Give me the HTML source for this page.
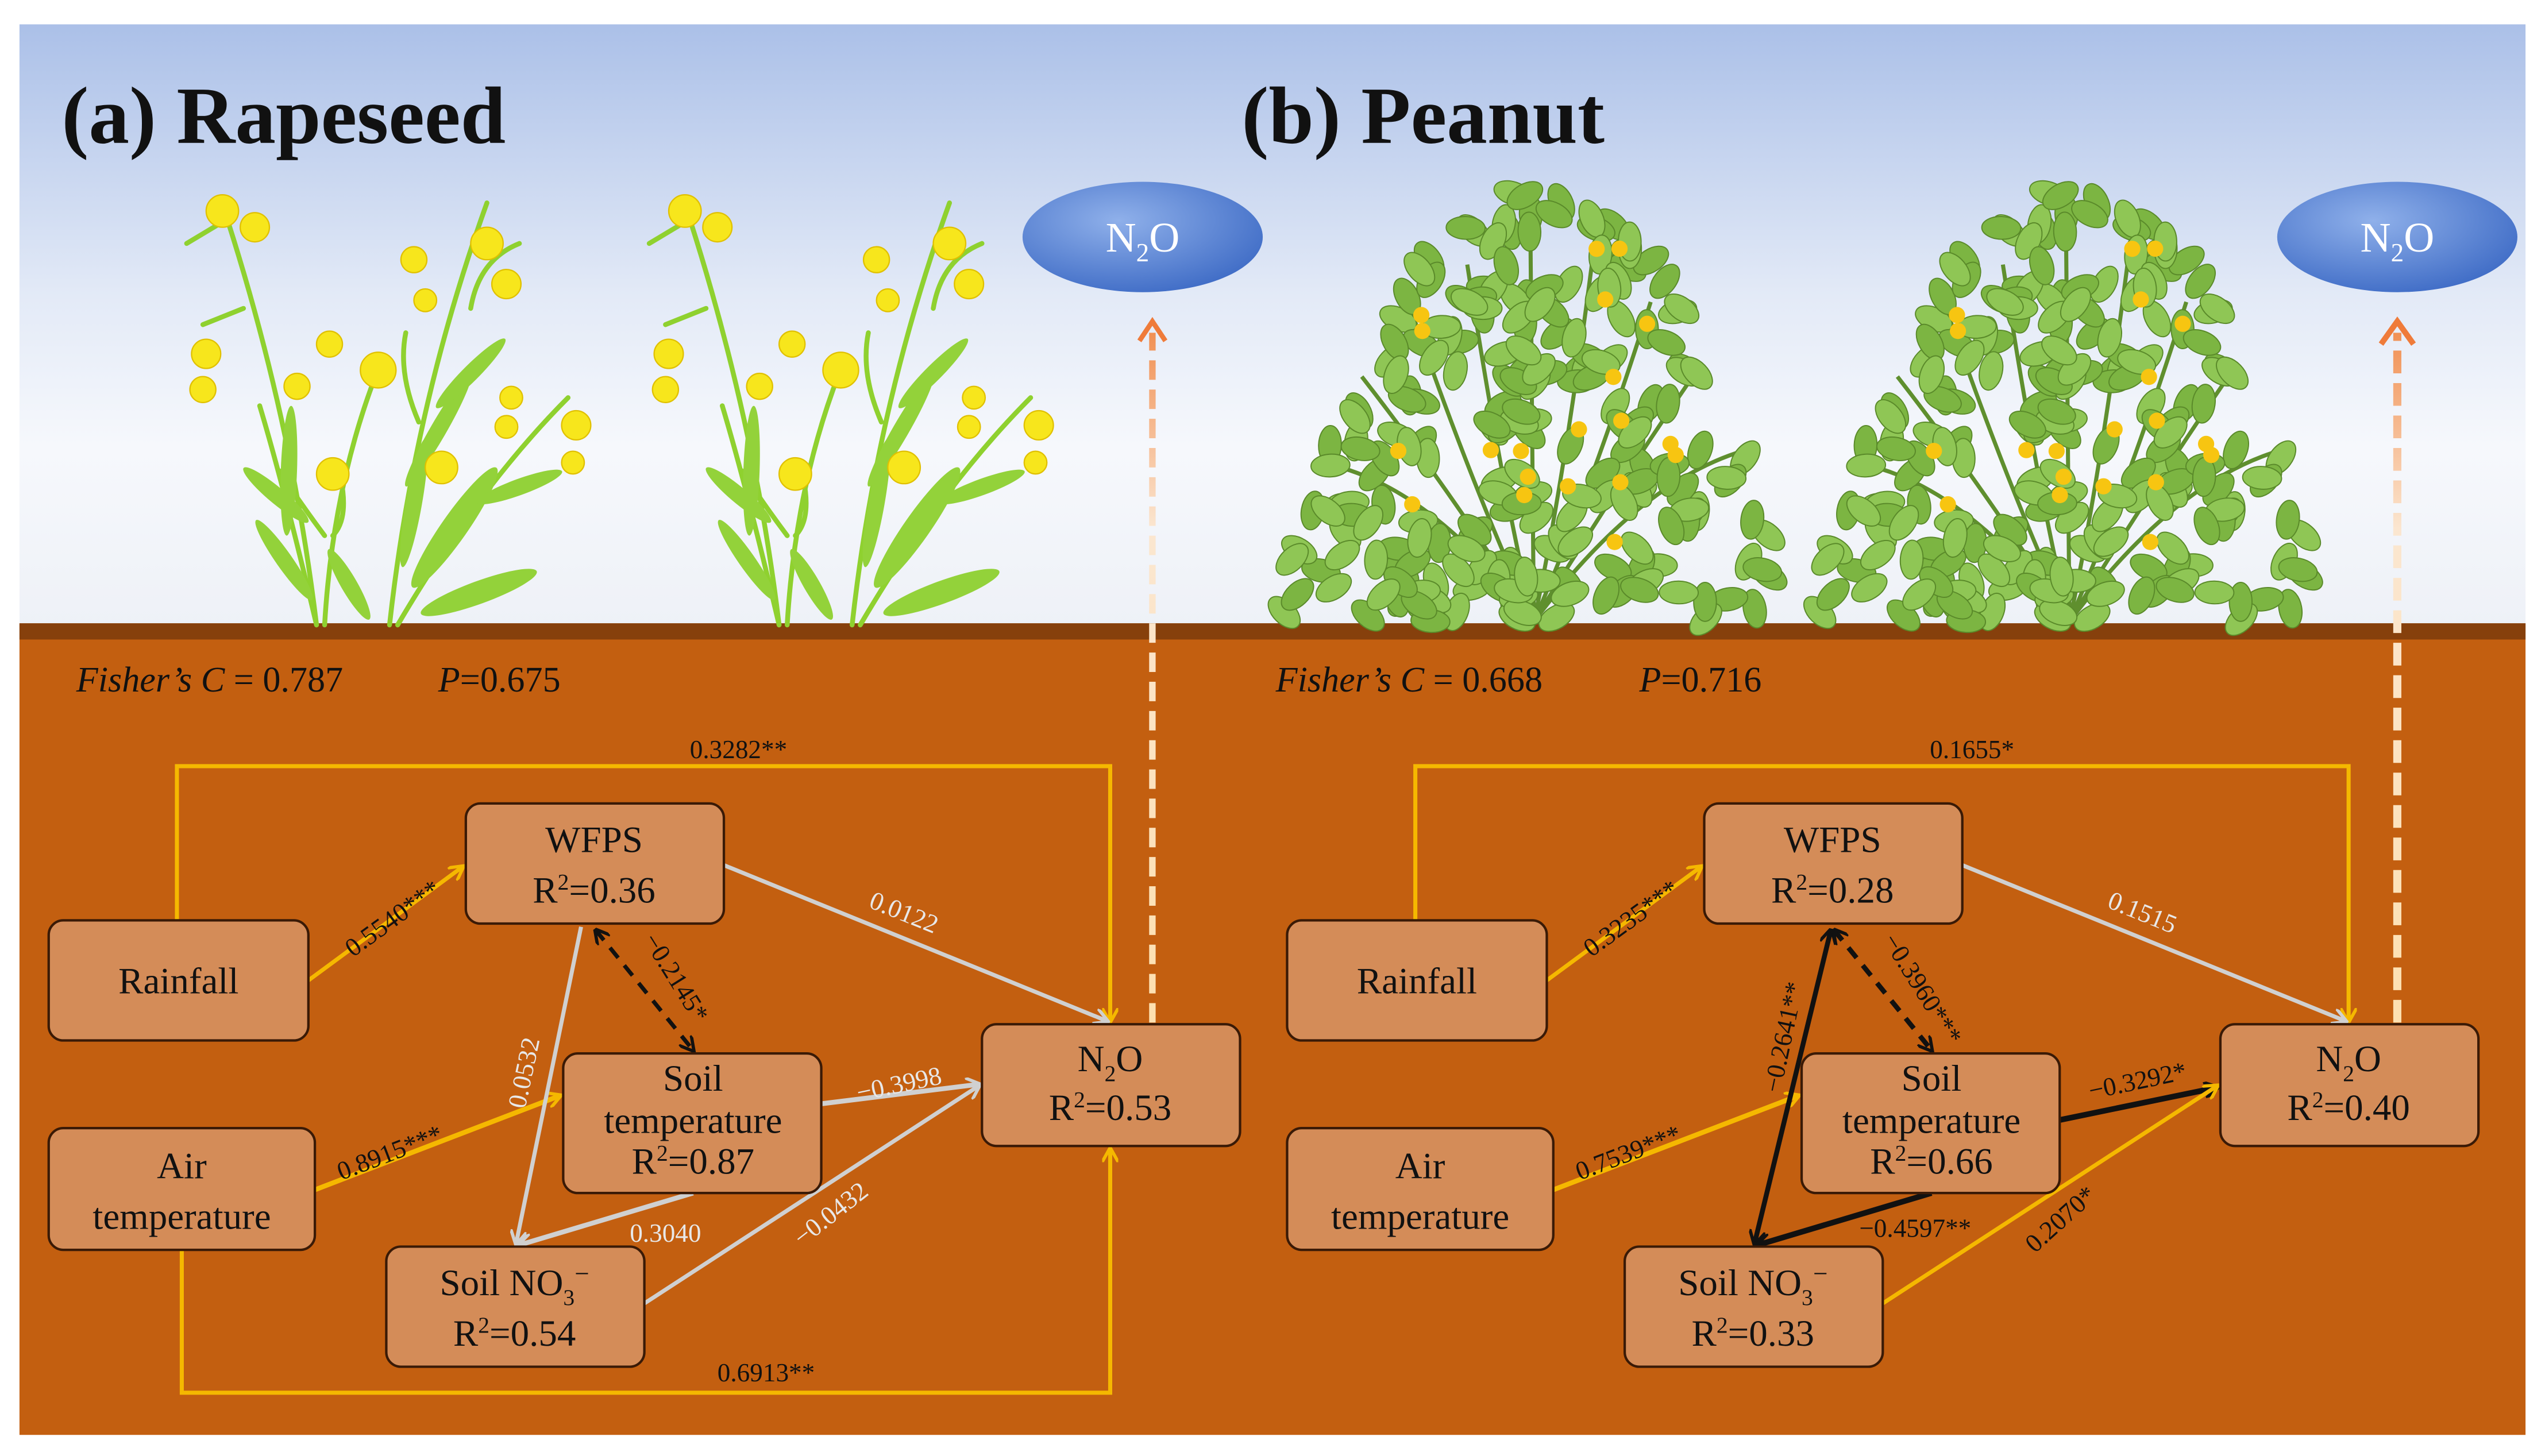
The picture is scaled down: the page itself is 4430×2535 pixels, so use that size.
<!DOCTYPE html>
<html><head><meta charset="utf-8">
<style>
html,body{margin:0;padding:0;background:#fff;}
svg{display:block;}
svg text{font-family:"Liberation Serif","DejaVu Serif",serif;}
</style></head>
<body>
<svg id="s" width="4430" height="2535" viewBox="0 0 1568 897" preserveAspectRatio="none" xmlns="http://www.w3.org/2000/svg" font-family="Liberation Serif, serif">
<defs>
<linearGradient id="sky" x1="0" y1="0" x2="0" y2="1">
<stop offset="0" stop-color="#abc0e8"/>
<stop offset="0.45" stop-color="#e3eaf7"/>
<stop offset="0.7" stop-color="#f6f8fc"/>
<stop offset="1" stop-color="#eef1f7"/>
</linearGradient>
<radialGradient id="ell" cx="0.4" cy="0.35" r="0.7">
<stop offset="0" stop-color="#8fb0ea"/>
<stop offset="1" stop-color="#3f6cc6"/>
</radialGradient>
<linearGradient id="dashA" gradientUnits="userSpaceOnUse" x1="0" y1="195" x2="0" y2="630">
<stop offset="0" stop-color="#f0894a"/>
<stop offset="0.3" stop-color="#fbe6d0"/>
<stop offset="1" stop-color="#fde0b0"/>
</linearGradient>
<marker id="my" markerWidth="10" markerHeight="10" refX="8" refY="5" orient="auto" markerUnits="userSpaceOnUse"><path d="M0,0 L9,5 L0,10" fill="none" stroke="#f5b800" stroke-width="2"/></marker>
<marker id="mg" markerWidth="10" markerHeight="10" refX="8" refY="5" orient="auto" markerUnits="userSpaceOnUse"><path d="M0,0 L9,5 L0,10" fill="none" stroke="#d0d0d0" stroke-width="2"/></marker>
<marker id="mk" markerWidth="10" markerHeight="10" refX="8" refY="5" orient="auto" markerUnits="userSpaceOnUse"><path d="M0,0 L9,5 L0,10" fill="none" stroke="#111" stroke-width="2"/></marker>
<marker id="mks" markerWidth="10" markerHeight="10" refX="1" refY="5" orient="auto" markerUnits="userSpaceOnUse"><path d="M9,0 L0,5 L9,10" fill="none" stroke="#111" stroke-width="2"/></marker>
<g id="rape">
 <g stroke="#8fd12f" stroke-width="3" fill="none" stroke-linecap="round">
  <path d="M195,385 Q180,260 140,135"/>
  <path d="M195,385 Q175,300 160,250"/>
  <path d="M200,385 Q205,300 232,230"/>
  <path d="M240,385 Q255,250 300,125"/>
  <path d="M245,385 Q295,300 350,245"/>
  <path d="M200,330 Q185,310 172,290"/>
  <path d="M205,330 Q215,320 210,295"/>
  <path d="M258,260 Q245,230 250,205"/>
  <path d="M290,190 Q295,160 320,150"/>
  <path d="M140,135 L115,150"/><path d="M150,190 L125,200"/>
 </g>
 <g fill="#93d23a">
  <ellipse cx="170" cy="305" rx="26" ry="5" transform="rotate(40 170 305)"/>
  <ellipse cx="175" cy="345" rx="30" ry="5" transform="rotate(55 175 345)"/>
  <ellipse cx="178" cy="290" rx="40" ry="5" transform="rotate(-88 178 290)"/>
  <ellipse cx="215" cy="360" rx="25" ry="5" transform="rotate(60 215 360)"/>
  <ellipse cx="270" cy="265" rx="40" ry="5" transform="rotate(-60 270 265)"/>
  <ellipse cx="280" cy="325" rx="45" ry="8" transform="rotate(-55 280 325)"/>
  <ellipse cx="295" cy="365" rx="38" ry="7" transform="rotate(-20 295 365)"/>
  <ellipse cx="290" cy="230" rx="30" ry="5" transform="rotate(-45 290 230)"/>
  <ellipse cx="320" cy="300" rx="28" ry="5" transform="rotate(-20 320 300)"/>
  <ellipse cx="255" cy="310" rx="40" ry="5" transform="rotate(-80 255 310)"/>
 </g>
 <g fill="#f7e61c" stroke="#e0c000" stroke-width="0.8">
  <circle cx="137" cy="130" r="10"/><circle cx="157" cy="140" r="9"/>
  <circle cx="127" cy="218" r="9"/><circle cx="125" cy="240" r="8"/>
  <circle cx="183" cy="238" r="8"/><circle cx="203" cy="212" r="8"/>
  <circle cx="233" cy="228" r="11"/><circle cx="205" cy="292" r="10"/>
  <circle cx="255" cy="160" r="8"/><circle cx="300" cy="150" r="10"/>
  <circle cx="312" cy="175" r="9"/><circle cx="262" cy="185" r="7"/>
  <circle cx="272" cy="288" r="10"/><circle cx="315" cy="245" r="7"/>
  <circle cx="312" cy="263" r="7"/><circle cx="355" cy="262" r="9"/><circle cx="353" cy="285" r="7"/>
 </g>
</g>
<g id="pea"></g>
</defs>
<rect x="12" y="15" width="1544" height="372" fill="url(#sky)"/>
<rect x="12" y="384" width="1544" height="500" fill="#c35f10"/>
<rect x="12" y="384" width="1544" height="10" fill="#86400c"/>

<text x="38" y="88" font-size="50" font-weight="bold" fill="#111" font-family="Liberation Serif, serif">(a) Rapeseed</text>
<text x="765" y="88" font-size="50" font-weight="bold" fill="#111" font-family="Liberation Serif, serif">(b) Peanut</text>

<use href="#rape"/>
<use href="#rape" transform="translate(285,0)"/>
<use href="#pea" transform="translate(945,0)"/>
<use href="#pea" transform="translate(1275,0)"/>

<ellipse cx="704" cy="146" rx="74" ry="34" fill="url(#ell)"/>
<text x="704" y="155" font-size="26" fill="#fff" text-anchor="middle">N<tspan font-size="16" dy="6">2</tspan><tspan dy="-6">O</tspan></text>
<ellipse cx="1477" cy="146" rx="74" ry="34" fill="url(#ell)"/>
<text x="1477" y="155" font-size="26" fill="#fff" text-anchor="middle">N<tspan font-size="16" dy="6">2</tspan><tspan dy="-6">O</tspan></text>
<line x1="710" y1="630" x2="710" y2="205" stroke="url(#dashA)" stroke-width="4" stroke-dasharray="12,6"/>
<path d="M702,210 L710,198 L718,210" fill="none" stroke="#ef7b3a" stroke-width="3"/>
<line x1="1477" y1="630" x2="1477" y2="205" stroke="url(#dashA)" stroke-width="5" stroke-dasharray="14,6"/>
<path d="M1467,212 L1477,198 L1487,212" fill="none" stroke="#ef7b3a" stroke-width="3.5"/>

<g font-size="22" fill="#111">
<text x="47" y="426"><tspan font-style="italic">Fisher’s C</tspan> = 0.787<tspan x="270" font-style="italic">P</tspan>=0.675</text>
<text x="786" y="426"><tspan font-style="italic">Fisher’s C</tspan> = 0.668<tspan x="1010" font-style="italic">P</tspan>=0.716</text>
</g>

<g fill="none" stroke-width="2.5">
 <polyline points="109,567 109,472 684,472 684,629" stroke="#f5b800" marker-end="url(#my)"/>
 <polyline points="112,770 112,858 684,858 684,708" stroke="#f5b800" marker-end="url(#my)"/>
 <line x1="190" y1="604" x2="285" y2="534" stroke="#f5b800" marker-end="url(#my)"/>
 <line x1="194" y1="733" x2="345" y2="675" stroke="#f5b800" stroke-width="3" marker-end="url(#my)"/>
 <line x1="446" y1="533" x2="682" y2="629" stroke="#d0d0d0" marker-end="url(#mg)"/>
 <line x1="506" y1="680" x2="603" y2="668" stroke="#d0d0d0" stroke-width="3" marker-end="url(#mg)"/>
 <line x1="358" y1="571" x2="318" y2="766" stroke="#d0d0d0" marker-end="url(#mg)"/>
 <line x1="427" y1="735" x2="320" y2="767" stroke="#d0d0d0" stroke-width="3" marker-end="url(#mg)"/>
 <line x1="397" y1="803" x2="603" y2="669" stroke="#d0d0d0" marker-end="url(#mg)"/>
 <line x1="367" y1="573" x2="427" y2="647" stroke="#111" stroke-dasharray="8,6" marker-end="url(#mk)" marker-start="url(#mks)"/>
</g>
<g font-size="16">
 <text x="455" y="467" text-anchor="middle" fill="#111">0.3282**</text>
 <text x="472" y="851" text-anchor="middle" fill="#111">0.6913**</text>
 <text transform="translate(245,570) rotate(-36)" text-anchor="middle" fill="#111">0.5540***</text>
 <text transform="translate(555,567) rotate(22)" text-anchor="middle" fill="#e8e8e8">0.0122</text>
 <text transform="translate(412,605) rotate(58)" text-anchor="middle" fill="#111">−0.2145*</text>
 <text transform="translate(328,662) rotate(-78)" text-anchor="middle" fill="#e8e8e8">0.0532</text>
 <text transform="translate(242,715) rotate(-21)" text-anchor="middle" fill="#111">0.8915***</text>
 <text transform="translate(555,673) rotate(-12)" text-anchor="middle" fill="#e8e8e8">−0.3998</text>
 <text x="410" y="765" text-anchor="middle" fill="#e8e8e8">0.3040</text>
 <text transform="translate(515,752) rotate(-38)" text-anchor="middle" fill="#e8e8e8">−0.0432</text>
</g>

<g fill="none" stroke-width="2.5">
 <polyline points="872,567 872,472 1447,472 1447,629" stroke="#f5b800" marker-end="url(#my)"/>
 <line x1="953" y1="604" x2="1048" y2="534" stroke="#f5b800" marker-end="url(#my)"/>
 <line x1="957" y1="733" x2="1108" y2="675" stroke="#f5b800" stroke-width="3" marker-end="url(#my)"/>
 <line x1="1209" y1="533" x2="1445" y2="629" stroke="#d0d0d0" marker-end="url(#mg)"/>
 <line x1="1269" y1="690" x2="1366" y2="670" stroke="#111" stroke-width="3.5" marker-end="url(#mk)"/>
 <line x1="1128" y1="573" x2="1081" y2="766" stroke="#111" stroke-width="3" marker-end="url(#mk)" marker-start="url(#mks)"/>
 <line x1="1190" y1="735" x2="1083" y2="767" stroke="#111" stroke-width="3.5" marker-end="url(#mk)"/>
 <line x1="1160" y1="803" x2="1366" y2="669" stroke="#f5b800" marker-end="url(#my)"/>
 <line x1="1130" y1="573" x2="1190" y2="647" stroke="#111" stroke-width="3" stroke-dasharray="8,6" marker-end="url(#mk)" marker-start="url(#mks)"/>
</g>
<g font-size="16">
 <text x="1215" y="467" text-anchor="middle" fill="#111">0.1655*</text>
 <text transform="translate(1008,570) rotate(-36)" text-anchor="middle" fill="#111">0.3235***</text>
 <text transform="translate(1318,567) rotate(22)" text-anchor="middle" fill="#e8e8e8">0.1515</text>
 <text transform="translate(1180,612) rotate(58)" text-anchor="middle" fill="#111">−0.3960***</text>
 <text transform="translate(1104,640) rotate(-78)" text-anchor="middle" fill="#111">−0.2641**</text>
 <text transform="translate(1005,715) rotate(-21)" text-anchor="middle" fill="#111">0.7539***</text>
 <text transform="translate(1318,671) rotate(-12)" text-anchor="middle" fill="#111">−0.3292*</text>
 <text x="1180" y="762" text-anchor="middle" fill="#111">−0.4597**</text>
 <text transform="translate(1273,755) rotate(-42)" text-anchor="middle" fill="#111">0.2070*</text>
</g>

<g fill="#d48c58" stroke="#3a1a06" stroke-width="1.5">
 <rect x="30" y="567" width="160" height="74" rx="9"/>
 <rect x="287" y="495" width="159" height="74" rx="9"/>
 <rect x="30" y="695" width="164" height="75" rx="9"/>
 <rect x="347" y="649" width="159" height="86" rx="9"/>
 <rect x="238" y="768" width="159" height="74" rx="9"/>
 <rect x="605" y="631" width="159" height="75" rx="9"/>
 <rect x="793" y="567" width="160" height="74" rx="9"/>
 <rect x="1050" y="495" width="159" height="74" rx="9"/>
 <rect x="793" y="695" width="164" height="75" rx="9"/>
 <rect x="1110" y="649" width="159" height="86" rx="9"/>
 <rect x="1001" y="768" width="159" height="74" rx="9"/>
 <rect x="1368" y="631" width="159" height="75" rx="9"/>
</g>
<g font-size="23" fill="#111" text-anchor="middle">
 <text x="110" y="612">Rainfall</text>
 <text x="366" y="525">WFPS</text><text x="366" y="556">R<tspan font-size="14" dy="-8">2</tspan><tspan dy="8">=0.36</tspan></text>
 <text x="112" y="726">Air</text><text x="112" y="757">temperature</text>
 <text x="427" y="672">Soil</text><text x="427" y="698">temperature</text><text x="427" y="723">R<tspan font-size="14" dy="-8">2</tspan><tspan dy="8">=0.87</tspan></text>
 <text x="317" y="798">Soil NO<tspan font-size="14" dy="6">3</tspan><tspan font-size="16" dy="-14">−</tspan></text><text x="317" y="829">R<tspan font-size="14" dy="-8">2</tspan><tspan dy="8">=0.54</tspan></text>
 <text x="684" y="660">N<tspan font-size="14" dy="6">2</tspan><tspan dy="-6">O</tspan></text><text x="684" y="690">R<tspan font-size="14" dy="-8">2</tspan><tspan dy="8">=0.53</tspan></text>

 <text x="873" y="612">Rainfall</text>
 <text x="1129" y="525">WFPS</text><text x="1129" y="556">R<tspan font-size="14" dy="-8">2</tspan><tspan dy="8">=0.28</tspan></text>
 <text x="875" y="726">Air</text><text x="875" y="757">temperature</text>
 <text x="1190" y="672">Soil</text><text x="1190" y="698">temperature</text><text x="1190" y="723">R<tspan font-size="14" dy="-8">2</tspan><tspan dy="8">=0.66</tspan></text>
 <text x="1080" y="798">Soil NO<tspan font-size="14" dy="6">3</tspan><tspan font-size="16" dy="-14">−</tspan></text><text x="1080" y="829">R<tspan font-size="14" dy="-8">2</tspan><tspan dy="8">=0.33</tspan></text>
 <text x="1447" y="660">N<tspan font-size="14" dy="6">2</tspan><tspan dy="-6">O</tspan></text><text x="1447" y="690">R<tspan font-size="14" dy="-8">2</tspan><tspan dy="8">=0.40</tspan></text>
</g>
</svg>
<script>
(function(){
var g=document.getElementById('pea'),s=7;
function r(){s=(s*9301+49297)%233280;return s/233280;}
var h='';
for(var i=0;i<9;i++){var a=-155+i*16;h+='<path d="M0,383 Q'+(Math.cos(a*Math.PI/180)*70).toFixed(0)+',300 '+(Math.cos(a*Math.PI/180)*140).toFixed(0)+','+(383+Math.sin(a*Math.PI/180)*230).toFixed(0)+'" stroke="#5f8f2e" stroke-width="2.5" fill="none"/>';}
for(var k=0;k<300;k++){
 var x=(r()*2-1)*155, y=118+r()*265;
 var lim=155*Math.sqrt(Math.max(0,(y-110)/272))+8;
 if(Math.abs(x)>lim) continue;
 var c=r()<0.5?'#7cb542':'#8fc655';
 h+='<ellipse cx="'+x.toFixed(1)+'" cy="'+y.toFixed(1)+'" rx="12" ry="7" fill="'+c+'" stroke="#5a8a2a" stroke-width="0.7" transform="rotate('+(r()*180).toFixed(0)+' '+x.toFixed(1)+' '+y.toFixed(1)+')"/>';
}
for(var k=0;k<20;k++){var x=(r()*2-1)*90,y=150+r()*200;h+='<circle cx="'+x.toFixed(1)+'" cy="'+y.toFixed(1)+'" r="5" fill="#f7c511"/>';}
g.innerHTML=h;
})();
</script>
</body></html>
